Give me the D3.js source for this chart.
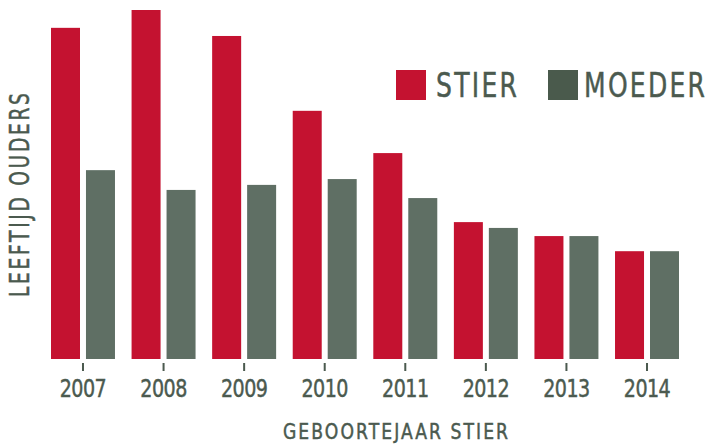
<!DOCTYPE html>
<html><head><meta charset="utf-8">
<script src="https://cdn.jsdelivr.net/npm/d3@7"></script>
<style>
html,body{margin:0;padding:0;background:#fff;}
svg{display:block;}
text{font-family:"DejaVu Sans",sans-serif;fill:#4b5a4f;stroke:#4b5a4f;stroke-width:0.5px;}
</style></head>
<body>
<svg id="chart" width="708" height="446"></svg>
<script>
const years = ["2007","2008","2009","2010","2011","2012","2013","2014"];
const seriesNames = ["STIER","MOEDER"];
const stier  = [8.54, 9.00, 8.33, 6.40, 5.31, 3.53, 3.17, 2.78];
const moeder = [4.87, 4.36, 4.49, 4.64, 4.15, 3.38, 3.17, 2.78];
const colors = ["#c41230", "#5f6f64"];
const legendColors = ["#c41230", "#4a5a4c"];

const svg = d3.select("#chart");
const baseY = 359;

const x = d3.scaleBand().domain(years).range([42.7, 687.3]).paddingInner(0.206).paddingOuter(0.103);
const xs = d3.scaleBand().domain(seriesNames).range([0, x.bandwidth()]).paddingInner(0.171);
const y = d3.scaleLinear().domain([0, 9]).range([baseY, 10]);

const data = years.map((yr, i) => ({year: yr, values: [stier[i], moeder[i]]}));

const g = svg.append("g");
const groups = g.selectAll("g.grp").data(data).join("g")
  .attr("class","grp")
  .attr("transform", d => `translate(${x(d.year)},0)`);
groups.selectAll("rect").data(d => d.values.map((v, k) => ({k, v}))).join("rect")
  .attr("x", d => xs(seriesNames[d.k]))
  .attr("width", xs.bandwidth())
  .attr("y", d => y(d.v))
  .attr("height", d => baseY - y(d.v))
  .attr("fill", d => colors[d.k]);

function fitText(sel, target, sx) {
  const node = sel.node();
  const n = sel.text().length;
  const len = node.getComputedTextLength();
  const ls = (target / sx - len) / (n - 1);
  sel.attr("letter-spacing", ls);
}

// x axis
const xAxis = d3.axisBottom(x).tickSize(0).tickPadding(0);
const ax = svg.append("g").attr("transform", `translate(0,${baseY})`).call(xAxis);
ax.select(".domain").remove();
ax.attr("font-family", null).attr("font-size", null);
ax.selectAll(".tick line").remove();
ax.selectAll(".tick").append("rect")
  .attr("x", -1).attr("y", 4).attr("width", 2).attr("height", 8).attr("fill", "#4b5a4f");
const tickSx = 0.78;
ax.selectAll(".tick text").attr("font-size", 24.5).attr("fill", "#4b5a4f")
  .attr("dy", null).attr("y", 38).attr("transform", `scale(${tickSx},1)`)
  .each(function() { fitText(d3.select(this), 47, tickSx); });

function addText(str, tx, ty, size, sx, target, rot) {
  const gg = svg.append("g").attr("transform", `translate(${tx},${ty})` + (rot ? ` rotate(${rot})` : "") + ` scale(${sx},1)`);
  const t = gg.append("text").attr("x", 0).attr("y", 0).attr("font-size", size).text(str);
  fitText(t, target, sx);
  return t;
}

// x title
addText("GEBOORTEJAAR STIER", 283, 439, 21.5, 0.8, 225, 0);
// y title
addText("LEEFTIJD OUDERS", 29, 297, 26, 0.72, 204, -90);

// legend
const legX = [396, 548];
const legTX = [436, 584];
const legW = [81, 121];
seriesNames.forEach((s, i) => {
  svg.append("rect").attr("x", legX[i]).attr("y", 70).attr("width", 30).attr("height", 30).attr("fill", legendColors[i]);
  addText(s, legTX[i], 97, 33, 0.76, legW[i], 0);
});
</script>
</body></html>
